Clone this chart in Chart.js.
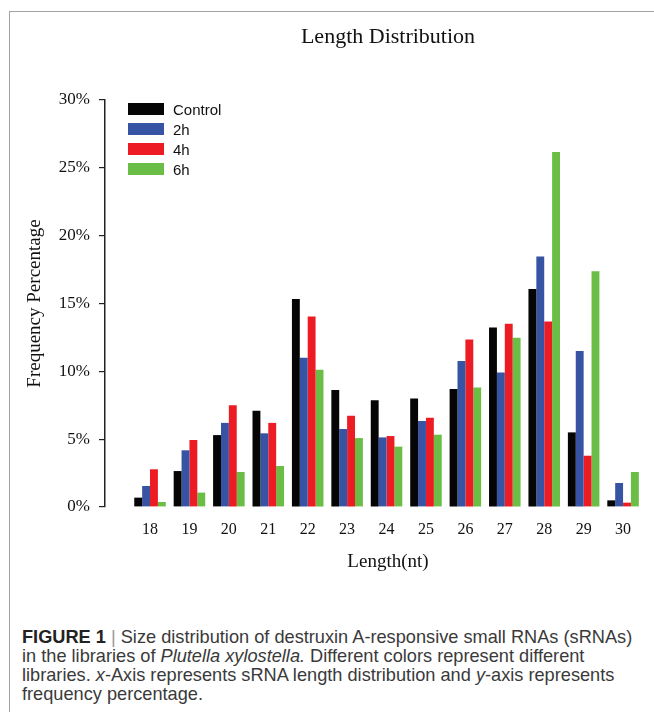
<!DOCTYPE html>
<html>
<head>
<meta charset="utf-8">
<script src="https://cdn.jsdelivr.net/npm/chart.js@4.4.1/dist/chart.umd.min.js"></script>
<style>
  html, body { margin: 0; padding: 0; background: #fff; }
  #page { position: relative; width: 654px; height: 712px; overflow: hidden; }
  #frame {
    position: absolute; left: 9px; top: 11px; width: 700px; height: 760px;
    border-left: 1.5px solid #a3a3a3; border-top: 1.5px solid #a3a3a3;
  }
  #chart { position: absolute; left: 0; top: 0; }
  #legend { position: absolute; left: 128px; top: 99px; font: 15px "Liberation Sans", Arial, sans-serif; color: #111; }
  #legend .row { height: 20px; display: flex; align-items: center; }
  #legend .sw { width: 36px; height: 12px; margin-right: 9px; }
  #caption {
    position: absolute; left: 22px; top: 628px; width: 632px;
    font: 18.2px/19px "Liberation Sans", Arial, sans-serif; color: #3a3a3a; white-space: nowrap;
  }
  #caption b { color: #222; }
  #caption .bar { color: #999; }
</style>
</head>
<body>
<div id="page">
  <div id="frame"></div>
  <canvas id="chart" width="671" height="600"></canvas>
  <div id="legend"></div>
  <div id="caption">
    <b>FIGURE 1</b> <span class="bar">|</span> Size distribution of destruxin A-responsive small RNAs (sRNAs)<br>
    in the libraries of <i>Plutella xylostella.</i> Different colors represent different<br>
    libraries. <i>x</i>-Axis represents sRNA length distribution and <i>y</i>-axis represents<br>
    frequency percentage.
  </div>
</div>
<script>
// sRNA length (nt) and frequency (%) per library
const lengths = [18, 19, 20, 21, 22, 23, 24, 25, 26, 27, 28, 29, 30];
const control = [0.69, 2.65, 5.30, 7.10, 15.33, 8.62, 7.86, 8.00, 8.70, 13.24, 16.06, 5.50, 0.49];
const h2      = [1.55, 4.18, 6.20, 5.43, 11.00, 5.75, 5.13, 6.34, 10.76, 9.92, 18.47, 11.50, 1.77];
const h4      = [2.78, 4.94, 7.50, 6.20, 14.05, 6.73, 5.23, 6.58, 12.35, 13.50, 13.68, 3.78, 0.32];
const h6      = [0.37, 1.06, 2.58, 3.02, 10.12, 5.08, 4.45, 5.33, 8.80, 12.48, 26.16, 17.37, 2.58];
const yTicks  = [0, 5, 10, 15, 20, 25, 30];

const seriesNames  = ['Control', '2h', '4h', '6h'];
const seriesValues = [control, h2, h4, h6];
const seriesColors = ['#050505', '#3653a4', '#ed1c24', '#6abd45'];

const serif = '"Liberation Serif", "Times New Roman", serif';

const datasets = seriesNames.map(function (name, i) {
  return {
    label: name,
    data: lengths.map(function (x, j) { return { x: x, y: seriesValues[i][j] }; }),
    backgroundColor: seriesColors[i],
    borderWidth: 0,
    categoryPercentage: 0.8,
    barPercentage: 1.0
  };
});

// legend (html, from the same series lists)
const legend = document.getElementById('legend');
seriesNames.forEach(function (name, i) {
  const row = document.createElement('div');
  row.className = 'row';
  row.innerHTML = '<span class="sw" style="background:' + seriesColors[i] + '"></span><span>' + name + '</span>';
  legend.appendChild(row);
});

new Chart(document.getElementById('chart'), {
  type: 'bar',
  data: { datasets: datasets },
  options: {
    responsive: false,
    animation: false,
    devicePixelRatio: 1,
    layout: { padding: { top: 14, left: 14, right: 0, bottom: 25 } },
    plugins: {
      legend: { display: false },
      tooltip: { enabled: false },
      title: {
        display: true,
        fullSize: false,
        text: 'Length Distribution',
        color: '#111',
        font: { family: serif, size: 22, weight: 'normal' },
        padding: { top: 9.8, bottom: 49.8 }
      }
    },
    scales: {
      x: {
        type: 'linear',
        min: 16.858,
        max: 31.216,
        offset: false,
        grid: { display: false, drawTicks: false },
        border: { display: false },
        afterBuildTicks: function (scale) {
          scale.ticks = lengths.map(function (v) { return { value: v }; });
        },
        afterFit: function (scale) { scale.height = 68; },
        ticks: {
          padding: 13,
          color: '#111',
          font: { family: serif, size: 16 },
          callback: function (v) { return String(v); }
        },
        title: {
          display: true,
          text: 'Length(nt)',
          color: '#111',
          font: { family: serif, size: 19 },
          padding: { top: 0, bottom: 1.6 }
        }
      },
      y: {
        min: 0,
        max: 30,
        afterBuildTicks: function (scale) {
          scale.ticks = yTicks.map(function (v) { return { value: v }; });
        },
        afterFit: function (scale) { scale.width = 91; },
        grid: { drawOnChartArea: false, drawTicks: true, tickLength: 6, color: '#222', lineWidth: 1.2 },
        border: { display: true, color: '#222', width: 1.5 },
        ticks: {
          padding: 9,
          color: '#111',
          font: { family: serif, size: 17 },
          callback: function (v) { return v + '%'; }
        },
        title: {
          display: true,
          text: 'Frequency Percentage',
          color: '#111',
          font: { family: serif, size: 19 },
          padding: { top: 10, bottom: 0 }
        }
      }
    }
  }
});
</script>
</body>
</html>
